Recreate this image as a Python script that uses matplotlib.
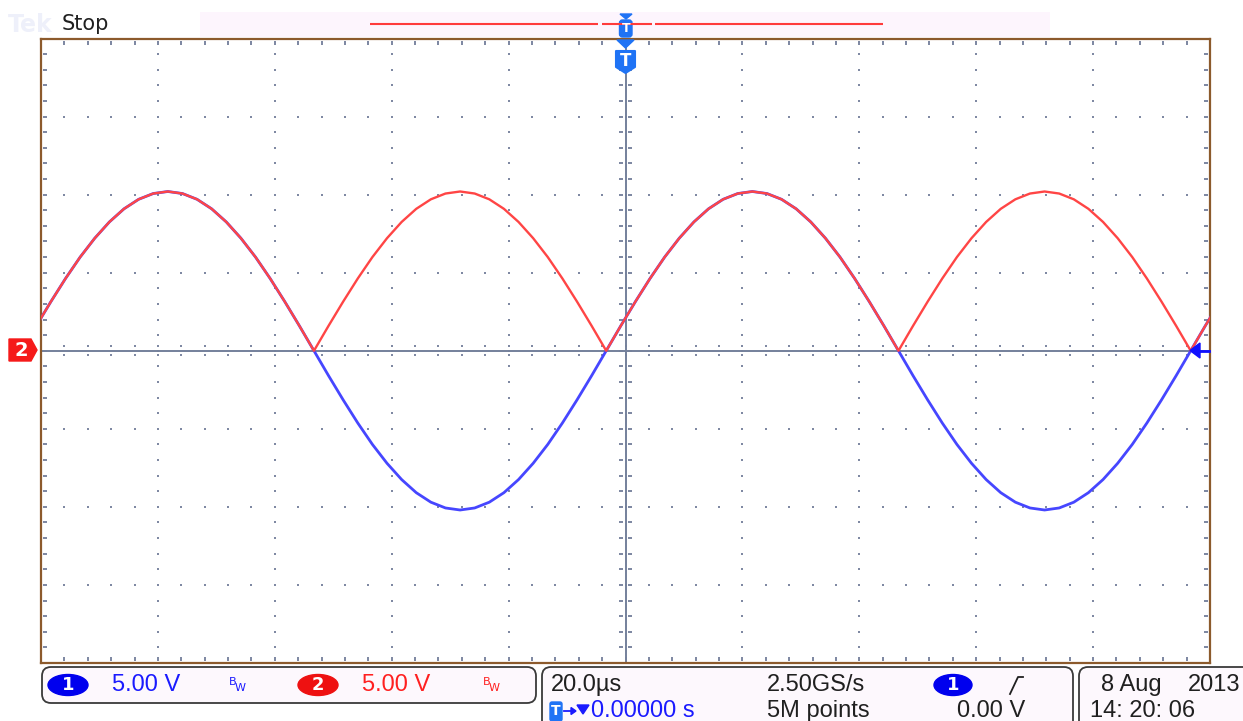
import numpy as np
import matplotlib.pyplot as plt
from matplotlib.patches import Polygon, FancyBboxPatch, Ellipse, Rectangle

# scope settings
us_per_div = 20.0
v_per_div = 5.0

# sample times (us) and the two channel traces (V)
t_us = np.round(np.arange(-100.8, 101.8, 2.5), 1)
ch1_v = [1.60, 3.15, 4.63, 6.00, 7.21, 8.25, 9.09, 9.70, 10.07, 10.20, 10.07, 9.70, 9.09, 8.25, 7.21, 6.00, 4.63, 3.15, 1.60,
         0.00,
         -1.60, -3.15, -4.63, -6.00, -7.21, -8.25, -9.09, -9.70, -10.07, -10.20, -10.07, -9.70, -9.09, -8.25, -7.21, -6.00, -4.63, -3.15, -1.60,
         0.00,
         1.60, 3.15, 4.63, 6.00, 7.21, 8.25, 9.09, 9.70, 10.07, 10.20, 10.07, 9.70, 9.09, 8.25, 7.21, 6.00, 4.63, 3.15, 1.60,
         0.00,
         -1.60, -3.15, -4.63, -6.00, -7.21, -8.25, -9.09, -9.70, -10.07, -10.20, -10.07, -9.70, -9.09, -8.25, -7.21, -6.00, -4.63, -3.15, -1.60,
         0.00,
         1.60, 3.15]
ch2_v = [1.60, 3.15, 4.63, 6.00, 7.21, 8.25, 9.09, 9.70, 10.07, 10.20, 10.07, 9.70, 9.09, 8.25, 7.21, 6.00, 4.63, 3.15, 1.60,
         0.00,
         1.60, 3.15, 4.63, 6.00, 7.21, 8.25, 9.09, 9.70, 10.07, 10.20, 10.07, 9.70, 9.09, 8.25, 7.21, 6.00, 4.63, 3.15, 1.60,
         0.00,
         1.60, 3.15, 4.63, 6.00, 7.21, 8.25, 9.09, 9.70, 10.07, 10.20, 10.07, 9.70, 9.09, 8.25, 7.21, 6.00, 4.63, 3.15, 1.60,
         0.00,
         1.60, 3.15, 4.63, 6.00, 7.21, 8.25, 9.09, 9.70, 10.07, 10.20, 10.07, 9.70, 9.09, 8.25, 7.21, 6.00, 4.63, 3.15, 1.60,
         0.00,
         1.60, 3.15]

FONT = ['Liberation Sans', 'DejaVu Sans']
BLUE = '#1a1aff'
RED = '#ff2020'
DARK = '#202020'

fig = plt.figure(figsize=(12.43, 7.21), dpi=100)
fig.patch.set_facecolor('white')

# graticule: 10 x 8 divisions
ax = fig.add_axes([41 / 1243, 1 - 663 / 721, 1169 / 1243, 624.5 / 721])
ax.set_xlim(-5, 5)
ax.set_ylim(-4, 4)
ax.set_xticks([])
ax.set_yticks([])
for s in ax.spines.values():
    s.set_color('#8c5a2c')
    s.set_linewidth(1.6)

dot = dict(s=1.8, c='#7f89a3', marker='s', linewidths=0, zorder=1)
fine_y = np.arange(-4, 4.001, 0.2)
fine_x = np.arange(-5, 5.001, 0.2)
for gx in [-4, -3, -2, -1, 1, 2, 3, 4]:
    ax.scatter(np.full_like(fine_y, gx), fine_y, **dot)
for gy in [-3, -2, -1, 1, 2, 3]:
    ax.scatter(fine_x, np.full_like(fine_x, gy), **dot)
# edge ticks
for off in [0.022, 0.04]:
    ax.scatter(np.full_like(fine_y, -5 + off), fine_y, **dot)
    ax.scatter(np.full_like(fine_y, 5 - off), fine_y, **dot)
for off in [0.04, 0.07]:
    ax.scatter(fine_x, np.full_like(fine_x, 4 - off), **dot)
    ax.scatter(fine_x, np.full_like(fine_x, -4 + off), **dot)
# center axis ticks
for off in [-0.045, -0.026, 0.026, 0.045]:
    ax.scatter(np.full_like(fine_y, off), fine_y, **dot)
for off in [-0.06, 0.06]:
    ax.scatter(fine_x, np.full_like(fine_x, off), **dot)
ax.axhline(0, color='#74809b', lw=1.4, zorder=2)
ax.axvline(0, color='#74809b', lw=1.4, zorder=2)

x_div = t_us / us_per_div
ax.plot(x_div, np.array(ch1_v) / v_per_div, color='#4646ff', lw=2.0,
        solid_joinstyle='round', zorder=3)
ax.plot(x_div, np.array(ch2_v) / v_per_div, color='#ff4545', lw=1.7,
        solid_joinstyle='round', zorder=4)

# overlay in pixel coordinates for the scope's readouts
ov = fig.add_axes([0, 0, 1, 1], zorder=5)
ov.set_xlim(0, 1243)
ov.set_ylim(721, 0)
ov.axis('off')
ov.patch.set_alpha(0)

# header
ov.text(8, 25, 'Tek', fontsize=17, fontweight='bold', color='#eef0fa', va='center', family='DejaVu Sans')
ov.text(62, 24, 'Stop', fontsize=15, color=DARK, va='center', family='DejaVu Sans')
ov.add_patch(Rectangle((200, 12), 850, 25, facecolor='#fdf5fd', edgecolor='none'))
for x0, x1 in [(370, 598), (602, 652), (655, 883)]:
    ov.plot([x0, x1], [24, 24], color='#ff3b3b', lw=1.5, solid_capstyle='butt')

TB = '#1f73f5'
ov.add_patch(Polygon([(620, 14), (632, 14), (626, 19)], closed=True, color=TB))
ov.add_patch(FancyBboxPatch((619.5, 20), 12.5, 17, boxstyle='round,pad=0,rounding_size=3', color=TB))
ov.text(625.8, 28.5, 'T', color='white', fontsize=9, fontweight='bold', ha='center', va='center', family='DejaVu Sans')
ov.add_patch(Polygon([(617, 40), (634, 40), (625.5, 48)], closed=True, color=TB))
ov.add_patch(Polygon([(616, 51), (635, 51), (635, 67), (625.5, 73), (616, 67)], closed=True, color=TB,
                     joinstyle='round', lw=1.5))
ov.text(625.5, 61, 'T', color='white', fontsize=12, fontweight='bold', ha='center', va='center', family='DejaVu Sans')

# channel 2 ground marker and trigger level marker
ov.add_patch(Polygon([(9, 339), (31, 339), (37, 350), (31, 361), (9, 361)], closed=True, color='#f51a1a'))
ov.text(21, 351, '2', color='white', fontsize=14, fontweight='bold', ha='center', va='center', family='DejaVu Sans')
ov.add_patch(Polygon([(1190, 350.5), (1200, 343), (1200, 358)], closed=True, color='#1010ff'))
ov.plot([1199, 1209], [350.5, 350.5], color='#1010ff', lw=2)

# footer boxes
box = dict(boxstyle='round,pad=0,rounding_size=9', ec='#3a3a3a', fc='#fdf8fd', lw=1.3)
ov.add_patch(FancyBboxPatch((42, 667), 494, 36, **box))
ov.add_patch(FancyBboxPatch((542, 667), 531, 70, **box))
ov.add_patch(FancyBboxPatch((1079, 667), 200, 70, **box))

r1, r2 = 685, 711
fs = 17
ov.add_patch(Ellipse((68, r1), 40, 21, color='#0000ee'))
ov.text(68, r1, '1', color='white', fontsize=13, fontweight='bold', ha='center', va='center', family='DejaVu Sans')
ov.text(112, r1, '5.00 V', color=BLUE, fontsize=fs, va='center', family=FONT)
ov.text(229, r1 - 3, 'B', color=BLUE, fontsize=8, va='center', family='DejaVu Sans')
ov.text(235, r1 + 3, 'W', color=BLUE, fontsize=8, va='center', family='DejaVu Sans')
ov.add_patch(Ellipse((318, r1), 40, 21, color='#ee1111'))
ov.text(318, r1, '2', color='white', fontsize=13, fontweight='bold', ha='center', va='center', family='DejaVu Sans')
ov.text(362, r1, '5.00 V', color=RED, fontsize=fs, va='center', family=FONT)
ov.text(483, r1 - 3, 'B', color=RED, fontsize=8, va='center', family='DejaVu Sans')
ov.text(489, r1 + 3, 'W', color=RED, fontsize=8, va='center', family='DejaVu Sans')

ov.text(551, r1, '20.0\u00b5s', color=DARK, fontsize=fs, va='center', family=FONT)
ov.text(767, r1, '2.50GS/s', color=DARK, fontsize=fs, va='center', family=FONT)
ov.add_patch(Ellipse((953, r1), 38, 21, color='#0000ee'))
ov.text(953, r1, '1', color='white', fontsize=13, fontweight='bold', ha='center', va='center', family='DejaVu Sans')
ov.plot([1010, 1018, 1023], [694, 677, 677], color=DARK, lw=1.3)
ov.add_patch(FancyBboxPatch((550, 702), 12, 19, boxstyle='round,pad=0,rounding_size=2', color=TB))
ov.text(556, 711, 'T', color='white', fontsize=10, fontweight='bold', ha='center', va='center', family='DejaVu Sans')
# trigger position readout: arrow and marker drawn as shapes, then the value
ov.plot([564, 574], [711, 711], color=BLUE, lw=1.3)
ov.add_patch(Polygon([(571, 707.5), (576, 711), (571, 714.5)], closed=True, color=BLUE))
ov.add_patch(Polygon([(577, 705), (589, 705), (583, 714)], closed=True, color=BLUE))
ov.text(591, r2, '0.00000 s', color=BLUE, fontsize=fs, va='center', family=FONT)
ov.text(767, r2, '5M points', color=DARK, fontsize=fs, va='center', family=FONT)
ov.text(957, r2, '0.00 V', color=DARK, fontsize=fs, va='center', family=FONT)

ov.text(1101, r1, '8 Aug', color=DARK, fontsize=fs, va='center', family=FONT)
ov.text(1240, r1, '2013', color=DARK, fontsize=fs, va='center', ha='right', family=FONT)
ov.text(1090, r2, '14: 20: 06', color=DARK, fontsize=fs, va='center', family=FONT)

fig.savefig('out.png', dpi=100)
